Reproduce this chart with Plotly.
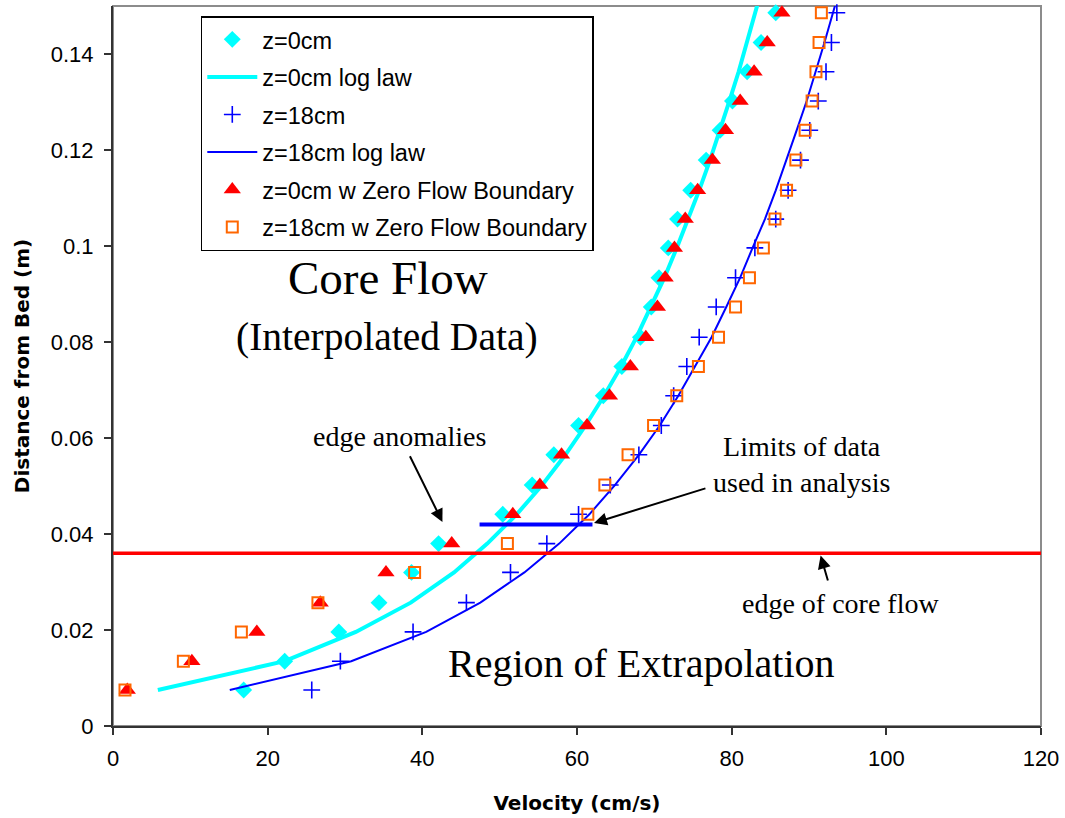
import plotly.graph_objects as go

# ---------------- data ----------------
heights = [0.0075, 0.0135, 0.0196, 0.0257, 0.032, 0.038, 0.0441, 0.0502,
           0.0565, 0.0626, 0.0688, 0.0749, 0.081, 0.0873, 0.0934, 0.0996,
           0.1056, 0.1116, 0.1179, 0.1241, 0.1302, 0.1363, 0.1424, 0.1486]

v_z0 = [16.9, 22.2, 29.2, 34.4, 38.6, 42.1, 50.4, 54.2, 57.0, 60.2, 63.4, 65.8,
        68.2, 69.6, 70.6, 71.8, 73.0, 74.7, 76.7, 78.5, 80.1, 82.0, 83.8, 85.7]
v_z18 = [25.7, 29.4, 38.8, 45.7, 51.4, 56.1, 60.2, 64.3, 68.0, 70.9, 72.5, 74.2,
         75.8, 78.0, 80.5, 83.0, 85.7, 87.3, 88.9, 90.1, 91.2, 92.2, 92.9, 93.6]
v_z0_zfb = [1.85, 10.2, 18.6, 26.8, 35.3, 43.8, 51.7, 55.2, 58.0, 61.3, 64.2, 66.9,
            68.9, 70.4, 71.4, 72.6, 74.0, 75.6, 77.5, 79.2, 81.1, 82.9, 84.6, 86.5]
v_z18_zfb = [1.55, 9.1, 16.6, 26.5, 39.0, 51.0, 61.4, 63.6, 66.6, 69.9, 72.9, 75.7,
             78.3, 80.5, 82.3, 84.1, 85.6, 87.1, 88.3, 89.5, 90.4, 90.9, 91.3, 91.6]

loglaw_h = [0.0075, 0.0135, 0.0196, 0.0257, 0.032, 0.038, 0.0441, 0.0502,
            0.0565, 0.0626, 0.0688, 0.0749, 0.081, 0.0873, 0.0934, 0.0996,
            0.1056, 0.1116, 0.1179, 0.1241, 0.1302, 0.1363, 0.1424, 0.1486, 0.1547]
loglaw_z0 = [5.8, 22.2, 31.4, 38.5, 44.1, 48.4, 52.2, 55.5, 58.5, 61.1, 63.5, 65.7,
             67.7, 69.6, 71.3, 72.9, 74.4, 75.8, 77.2, 78.5, 79.7, 80.9, 82.0, 83.1, 84.1]
loglaw_z18 = [15.1, 30.8, 40.5, 47.5, 53.2, 57.7, 61.6, 64.9, 68.0, 70.7, 73.1, 75.3,
              77.4, 79.3, 81.1, 82.7, 84.3, 85.7, 87.1, 88.4, 89.7, 90.9, 92.0, 93.1, 94.2]

core_edge_x = [0, 120]
core_edge_h = [0.036, 0.036]
limit_x = [47.4, 62.0]
limit_h = [0.042, 0.042]

x_ticks = [0, 20, 40, 60, 80, 100, 120]
y_ticks = [0, 0.02, 0.04, 0.06, 0.08, 0.1, 0.12, 0.14]
y_tick_text = ["0", "0.02", "0.04", "0.06", "0.08", "0.1", "0.12", "0.14"]

# ---------------- figure ----------------
CYAN = "#00FFFF"
BLUE = "#0000FF"
RED = "#FF0000"
ORANGE = "#FF6600"

fig = go.Figure()

fig.add_trace(go.Scatter(x=v_z0, y=heights, mode="markers", name="z=0cm",
                         legendgroup="a",
                         marker=dict(symbol="diamond", size=13, color=CYAN,
                                     line=dict(width=0)), cliponaxis=False))
fig.add_trace(go.Scatter(x=loglaw_z0, y=loglaw_h, mode="lines", name="z=0cm log law",
                         legendgroup="b",
                         line=dict(color=CYAN, width=4)))
fig.add_trace(go.Scatter(x=v_z18, y=heights, mode="markers", name="z=18cm",
                         legendgroup="c",
                         marker=dict(symbol="cross-thin", size=12, color=BLUE,
                                     line=dict(color=BLUE, width=1.6)), cliponaxis=False))
fig.add_trace(go.Scatter(x=loglaw_z18, y=loglaw_h, mode="lines", name="z=18cm log law",
                         legendgroup="d",
                         line=dict(color=BLUE, width=2)))
fig.add_trace(go.Scatter(x=v_z0_zfb, y=heights, mode="markers",
                         name="z=0cm w Zero Flow Boundary", legendgroup="e",
                         marker=dict(symbol="triangle-up", size=15, color=RED,
                                     line=dict(width=0)), cliponaxis=False))
fig.add_trace(go.Scatter(x=v_z18_zfb, y=heights, mode="markers",
                         name="z=18cm w Zero Flow Boundary", legendgroup="f",
                         marker=dict(symbol="square-open", size=11, color=ORANGE,
                                     line=dict(color=ORANGE, width=2)), cliponaxis=False))
fig.add_trace(go.Scatter(x=core_edge_x, y=core_edge_h, mode="lines", showlegend=False,
                         line=dict(color=RED, width=3.5)))
fig.add_trace(go.Scatter(x=limit_x, y=limit_h, mode="lines", showlegend=False,
                         line=dict(color=BLUE, width=4)))

SERIF = "Liberation Serif, Times New Roman, serif"
ann_font = dict(family=SERIF, size=28, color="black")

annotations = [
    dict(x=35.6, y=0.0933, text="Core Flow", showarrow=False,
         font=dict(family=SERIF, size=47, color="black")),
    dict(x=35.4, y=0.081, text="(Interpolated Data)", showarrow=False,
         font=dict(family=SERIF, size=39.5, color="black")),
    dict(x=37.0, y=0.0604, text="edge anomalies", showarrow=False, font=ann_font),
    dict(x=89.0, y=0.0545, text="Limits of data<br>used in analysis", showarrow=False,
         font=ann_font),
    dict(x=94.1, y=0.0256, text="edge of core flow", showarrow=False, font=ann_font),
    dict(x=68.3, y=0.0131, text="Region of Extrapolation", showarrow=False,
         font=dict(family=SERIF, size=40, color="black")),
    # arrows
    dict(x=42.6, y=0.0425, ax=38.3, ay=0.0565, axref="x", ayref="y", text="",
         showarrow=True, arrowhead=2, arrowsize=1.3, arrowwidth=2, arrowcolor="black"),
    dict(x=62.2, y=0.0423, ax=76.8, ay=0.0496, axref="x", ayref="y", text="",
         showarrow=True, arrowhead=2, arrowsize=1.3, arrowwidth=2, arrowcolor="black"),
    dict(x=91.5, y=0.0355, ax=92.5, ay=0.030, axref="x", ayref="y", text="",
         showarrow=True, arrowhead=2, arrowsize=1.3, arrowwidth=2, arrowcolor="black"),
]

SANS = "Liberation Sans, Arial, sans-serif"
TITLE_FONT = dict(family="DejaVu Sans", size=20, color="black", weight="bold")

fig.update_layout(
    width=1065, height=818,
    margin=dict(l=113, r=22, t=6, b=92),
    paper_bgcolor="white", plot_bgcolor="white",
    font=dict(family=SANS, color="black"),
    showlegend=True,
    legend=dict(x=0.0946, y=0.986, xanchor="left", yanchor="top",
                bgcolor="white", bordercolor="black", borderwidth=1.5,
                font=dict(family=SANS, size=23.5, color="black"),
                traceorder="grouped", tracegroupgap=4, itemwidth=50),
    annotations=annotations,
    shapes=[dict(type="rect", xref="x domain", yref="y domain", x0=0, x1=1, y0=0, y1=1,
                 line=dict(color="#8c8c8c", width=2), layer="below")],
)

fig.update_xaxes(range=[0, 120], tickvals=x_ticks, showgrid=False, zeroline=False,
                 showline=True, linecolor="#333333", linewidth=2,
                 ticks="outside", ticklen=7, tickcolor="#333333", tickwidth=1.5,
                 ticklabelstandoff=5,
                 tickfont=dict(family=SANS, size=22, color="black"),
                 title=dict(text="Velocity (cm/s)", font=TITLE_FONT, standoff=26))
fig.update_yaxes(range=[0, 0.15], tickvals=y_ticks, ticktext=y_tick_text,
                 showgrid=False, zeroline=False,
                 showline=True, linecolor="#333333", linewidth=2,
                 ticks="outside", ticklen=7, tickcolor="#333333", tickwidth=1.5,
                 ticklabelstandoff=6,
                 tickfont=dict(family=SANS, size=22, color="black"),
                 title=dict(text="Distance from Bed (m)", font=TITLE_FONT, standoff=16))

fig.write_html("out.html")
